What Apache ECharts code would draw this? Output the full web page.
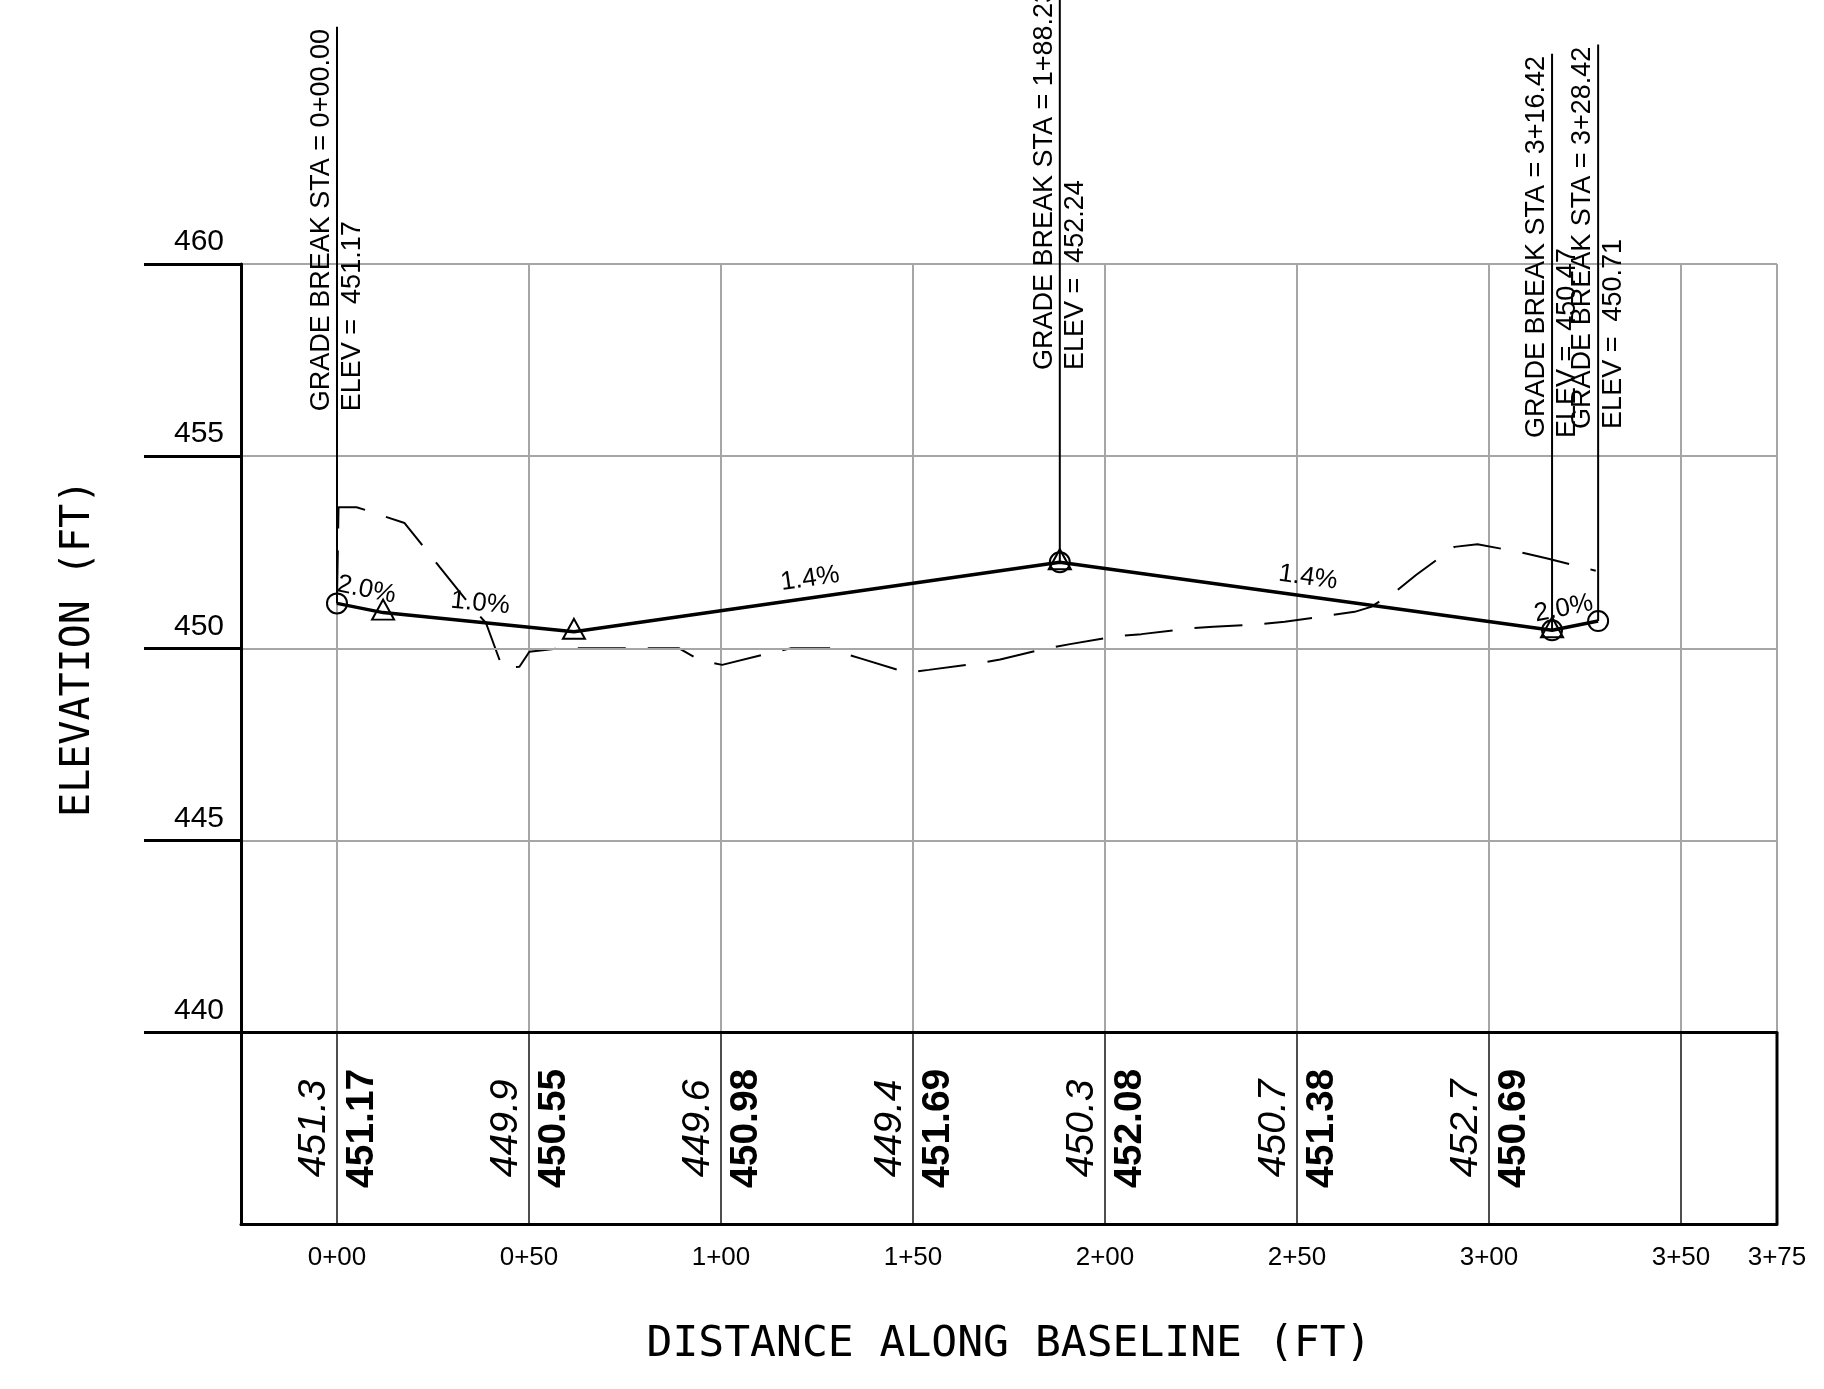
<!DOCTYPE html>
<html>
<head>
<meta charset="utf-8">
<script src="https://cdn.jsdelivr.net/npm/echarts@6/dist/echarts.min.js"></script>
<style>
html,body{margin:0;padding:0;background:#fff;}
#chart{width:1824px;height:1389px;}
</style>
</head>
<body>
<div id="chart"></div>
<script>
// ---------------- DATA ----------------
// Table stations and values (existing ground = italic, proposed = bold)
const tableStations = [0, 50, 100, 150, 200, 250, 300];
const existingElev  = [451.3, 449.9, 449.6, 449.4, 450.3, 450.7, 452.7];
const proposedElev  = [451.17, 450.55, 450.98, 451.69, 452.08, 451.38, 450.69];

// Grid / tick definitions
const gridStations = [0, 50, 100, 150, 200, 250, 300, 350, 375];
const xTickValues  = [0, 50, 100, 150, 200, 250, 300, 350, 375];
const xTickLabels  = ['0+00', '0+50', '1+00', '1+50', '2+00', '2+50', '3+00', '3+50', '3+75'];
const yTickValues  = [440, 445, 450, 455, 460];

// Proposed profile (solid)
const profileSta  = [0, 12, 61.7, 188.23, 316.42, 328.42];
const profileElev = [451.17, 450.93, 450.43, 452.24, 450.47, 450.71];

// Grade breaks
const gradeBreakSta   = [0, 188.23, 316.42, 328.42];
const gradeBreakElev  = [451.17, 452.24, 450.47, 450.71];
const gradeBreakLabel = ['0+00.00', '1+88.23', '3+16.42', '3+28.42'];

// Triangle markers
const triangleSta  = [12, 61.7, 188.23, 316.42];
const triangleElev = [450.93, 450.43, 452.24, 450.47];

// Slope labels
const slopeText = ['2.0%', '1.0%', '1.4%', '1.4%', '2.0%'];
const slopeSta  = [6.7, 36.8, 123.9, 252.2, 320.4];

// Existing ground (dashed)
const groundSta  = [0, 0.4, 5.1, 8.0, 17.6, 23.2, 26.7, 35.3, 38.8, 43.1, 47.5, 50.1, 57.9, 89.1, 94.3,
                    100.3, 112.4, 118.1, 128.9, 130.7, 136.3, 148.4, 154.1, 167.1, 172.7, 184.8, 190.9,
                    203.5, 209.5, 222.1, 228.2, 240.7, 246.8, 259.3, 265.0, 269.3, 276.2, 281, 291, 297,
                    309.6, 315.2, 327.8];
const groundElev = [451.3, 453.67, 453.67, 453.58, 453.26, 452.56, 452.12, 451.05, 450.66, 449.49, 449.52,
                    449.91, 450.0, 450.0, 449.7, 449.57, 449.87, 450.0, 450.0, 449.91, 449.74, 449.37,
                    449.44, 449.61, 449.71, 450.0, 450.11, 450.32, 450.37, 450.52, 450.56, 450.63, 450.69,
                    450.87, 450.95, 451.08, 451.52, 451.91, 452.64, 452.71, 452.47, 452.34, 452.02];

// ---------------- STYLE CONSTANTS ----------------
const X_MIN = -25, X_MAX = 375;
const Y_MIN = 440, Y_MAX = 460;
const GRID_LEFT = 241, GRID_TOP = 264, GRID_W = 1536, PLOT_H = 768.7, TABLE_H = 191.3;
const LEADER_FT = 15, TEXT_FT = 5;
const SANS = '"Liberation Sans", Arial, sans-serif';
const GRAY = '#a6a6a6';

const chart = echarts.init(document.getElementById('chart'), null, {renderer: 'canvas', width: 1824, height: 1389});

function profileAt(s) {
  for (let i = 0; i < profileSta.length - 1; i++) {
    if (s >= profileSta[i] && s <= profileSta[i + 1]) return i;
  }
  return profileSta.length - 2;
}

const option = {
  backgroundColor: '#fff',
  animation: false,
  grid: [
    {left: GRID_LEFT, top: GRID_TOP, width: GRID_W, height: PLOT_H, containLabel: false, outerBoundsMode: 'none'},
    {left: GRID_LEFT, top: GRID_TOP + PLOT_H, width: GRID_W, height: TABLE_H, containLabel: false, outerBoundsMode: 'none'}
  ],
  xAxis: [
    {
      gridIndex: 0, type: 'value', min: X_MIN, max: X_MAX, interval: 25, position: 'bottom', z: 5,
      axisLine: {show: true, onZero: false, lineStyle: {color: '#000', width: 3}},
      axisTick: {show: false}, axisLabel: {show: false}, splitLine: {show: false}
    },
    {
      gridIndex: 1, type: 'value', min: X_MIN, max: X_MAX, interval: 25, position: 'bottom', z: 5,
      axisLine: {show: true, onZero: false, lineStyle: {color: '#000', width: 3}},
      axisTick: {show: false}, splitLine: {show: false},
      axisLabel: {
        show: true, margin: 21, color: '#000', fontFamily: SANS, fontSize: 26,
        showMinLabel: true, showMaxLabel: true, hideOverlap: false,
        formatter: v => { const i = xTickValues.indexOf(Math.round(v)); return i >= 0 ? xTickLabels[i] : ''; }
      },
      name: 'DISTANCE ALONG BASELINE (FT)', nameLocation: 'middle', nameGap: 99,
      nameTextStyle: {color: '#000', fontFamily: '"DejaVu Sans Mono", monospace', fontSize: 43}
    }
  ],
  yAxis: [
    {
      gridIndex: 0, type: 'value', min: Y_MIN, max: Y_MAX, interval: 5, z: 5,
      axisLine: {show: true, onZero: false, lineStyle: {color: '#000', width: 3}},
      axisTick: {show: true, length: 97, lineStyle: {color: '#000', width: 3}},
      splitLine: {show: true, lineStyle: {color: GRAY, width: 2}},
      axisLabel: {
        show: true, margin: 17, color: '#000', fontFamily: SANS, fontSize: 30,
        verticalAlign: 'bottom', padding: [0, 0, 7, 0], showMinLabel: true, showMaxLabel: true,
        formatter: v => (yTickValues.indexOf(Math.round(v)) >= 0 ? String(Math.round(v)) : '')
      },
      name: 'ELEVATION (FT)', nameLocation: 'middle', nameGap: 142,
      nameTextStyle: {color: '#000', fontFamily: '"DejaVu Sans Mono", monospace', fontSize: 40}
    },
    {
      gridIndex: 1, type: 'value', min: 0, max: 1, z: 5,
      axisLine: {show: true, onZero: false, lineStyle: {color: '#000', width: 3}},
      axisTick: {show: false}, axisLabel: {show: false}, splitLine: {show: false}
    }
  ],
  series: [
    // vertical gray grid lines in plot area
    {
      type: 'custom', xAxisIndex: 0, yAxisIndex: 0, silent: true, clip: false, z: 1,
      data: gridStations.map(s => [s, Y_MIN]),
      renderItem: (params, api) => {
        const s = api.value(0);
        const a = api.coord([s, Y_MIN]), b = api.coord([s, Y_MAX]);
        return {type: 'line', shape: {x1: a[0], y1: a[1], x2: b[0], y2: b[1]},
                style: {stroke: GRAY, lineWidth: 2}};
      }
    },
    // table vertical lines
    {
      type: 'custom', xAxisIndex: 1, yAxisIndex: 1, silent: true, clip: false, z: 1,
      data: gridStations.map(s => [s, 0]),
      renderItem: (params, api) => {
        const s = api.value(0);
        const a = api.coord([s, 0]), b = api.coord([s, 1]);
        const last = params.dataIndex === gridStations.length - 1;
        return {type: 'line', shape: {x1: a[0], y1: a[1], x2: b[0], y2: b[1]},
                style: {stroke: last ? '#000' : '#222', lineWidth: last ? 3 : 1.6}};
      }
    },
    // existing ground (dashed)
    {
      type: 'line', xAxisIndex: 0, yAxisIndex: 0, silent: true, symbol: 'none', z: 3,
      data: groundSta.map((s, i) => [s, groundElev[i]]),
      lineStyle: {color: '#000', width: 2, type: [48, 22]}
    },
    // proposed profile
    {
      type: 'line', xAxisIndex: 0, yAxisIndex: 0, silent: true, symbol: 'none', z: 4,
      data: profileSta.map((s, i) => [s, profileElev[i]]),
      lineStyle: {color: '#000', width: 3.5}
    },
    // grade break leaders + labels
    {
      type: 'custom', xAxisIndex: 0, yAxisIndex: 0, silent: true, clip: false, z: 6,
      data: gradeBreakSta.map((s, i) => [s, gradeBreakElev[i]]),
      renderItem: (params, api) => {
        const s = api.value(0), e = api.value(1), i = params.dataIndex;
        const p0 = api.coord([s, e]);
        const p1 = api.coord([s, e + LEADER_FT]);
        const pt = api.coord([s, e + TEXT_FT]);
        return {type: 'group', children: [
          {type: 'line', shape: {x1: p0[0], y1: p0[1], x2: p1[0], y2: p1[1]}, style: {stroke: '#000', lineWidth: 2}},
          {type: 'text', x: pt[0], y: pt[1], rotation: Math.PI / 2,
           style: {text: 'GRADE BREAK STA = ' + gradeBreakLabel[i], x: 0, y: -15.5, align: 'left', verticalAlign: 'middle',
                   fontFamily: SANS, fontSize: 27, fill: '#000'}},
          {type: 'text', x: pt[0], y: pt[1], rotation: Math.PI / 2,
           style: {text: 'ELEV =  ' + gradeBreakElev[i].toFixed(2), x: 0, y: 15.5, align: 'left', verticalAlign: 'middle',
                   fontFamily: SANS, fontSize: 27, fill: '#000'}}
        ]};
      }
    },
    // circles at grade breaks
    {
      type: 'scatter', xAxisIndex: 0, yAxisIndex: 0, silent: true, z: 7,
      symbol: 'circle', symbolSize: 20,
      itemStyle: {color: 'rgba(0,0,0,0)', borderColor: '#000', borderWidth: 2, opacity: 1},
      data: gradeBreakSta.map((s, i) => [s, gradeBreakElev[i]])
    },
    // triangles
    {
      type: 'scatter', xAxisIndex: 0, yAxisIndex: 0, silent: true, z: 7,
      symbol: 'triangle', symbolSize: [22, 20], symbolOffset: [0, -3],
      itemStyle: {color: 'rgba(0,0,0,0)', borderColor: '#000', borderWidth: 2, opacity: 1},
      data: triangleSta.map((s, i) => [s, triangleElev[i]])
    },
    // slope labels
    {
      type: 'custom', xAxisIndex: 0, yAxisIndex: 0, silent: true, clip: false, z: 8,
      data: slopeSta.map((s, i) => [s, 0, i]),
      renderItem: (params, api) => {
        const s = api.value(0), i = params.dataIndex;
        const k = profileAt(s);
        const a = api.coord([profileSta[k], profileElev[k]]);
        const b = api.coord([profileSta[k + 1], profileElev[k + 1]]);
        const dx = b[0] - a[0], dy = b[1] - a[1], L = Math.hypot(dx, dy);
        const t = (s - profileSta[k]) / (profileSta[k + 1] - profileSta[k]);
        const px = a[0] + dx * t, py = a[1] + dy * t;
        const off = 19;
        const nx = dy / L, ny = -dx / L;
        return {type: 'text', x: px + nx * off, y: py + ny * off, rotation: Math.atan2(-dy, dx),
                style: {text: slopeText[i], align: 'center', verticalAlign: 'middle',
                        fontFamily: SANS, fontSize: 26, fill: '#000'}};
      }
    },
    // table values
    {
      type: 'custom', xAxisIndex: 1, yAxisIndex: 1, silent: true, clip: false, z: 8,
      data: tableStations.map((s, i) => [s, 0.5, i]),
      renderItem: (params, api) => {
        const s = api.value(0), i = params.dataIndex;
        const p = api.coord([s, 0.5]);
        return {type: 'group', children: [
          {type: 'text', x: p[0] - 23, y: p[1], rotation: Math.PI / 2,
           style: {text: existingElev[i].toFixed(1), align: 'center', verticalAlign: 'middle',
                   fontFamily: SANS, fontSize: 39, fontStyle: 'italic', fill: '#000'}},
          {type: 'text', x: p[0] + 25, y: p[1], rotation: Math.PI / 2,
           style: {text: proposedElev[i].toFixed(2), align: 'center', verticalAlign: 'middle',
                   fontFamily: SANS, fontSize: 39, fontWeight: 'bold', fill: '#000'}}
        ]};
      }
    }
  ]
};

chart.setOption(option);
</script>
</body>
</html>
